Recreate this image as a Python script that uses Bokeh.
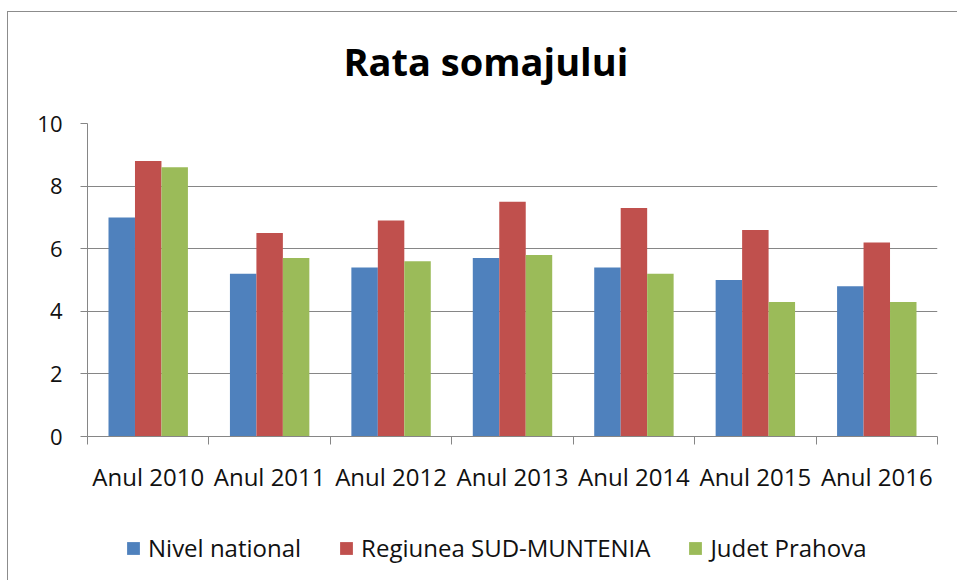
import numpy as np
from bokeh.plotting import figure
from bokeh.layouts import column
from bokeh.models import (FixedTicker, Legend, LegendItem, Range1d, Title)
from bokeh.embed import file_html
from bokeh.resources import INLINE

# ---- data ----
categories = ["Anul 2010", "Anul 2011", "Anul 2012", "Anul 2013",
              "Anul 2014", "Anul 2015", "Anul 2016"]
nivel_national = [7.0, 5.2, 5.4, 5.7, 5.4, 5.0, 4.8]
regiunea_sud_muntenia = [8.8, 6.5, 6.9, 7.5, 7.3, 6.6, 6.2]
judet_prahova = [8.6, 5.7, 5.6, 5.8, 5.2, 4.3, 4.3]
series_names = ["Nivel national", "Regiunea SUD-MUNTENIA", "Judet Prahova"]
y_ticks = [0, 2, 4, 6, 8, 10]
title_text = "Rata somajului"

colors = ["#4F81BD", "#C0504D", "#9BBB59"]
FONT = "Open Sans"
GRID = "#868686"

W, H1, H2 = 950, 490, 79
p = figure(width=W, height=H1, output_backend="svg", toolbar_location=None,
           x_range=Range1d(0, len(categories)), y_range=Range1d(0, 10),
           min_border_left=79, min_border_right=21,
           min_border_top=111, min_border_bottom=66,
           background_fill_color="white", border_fill_color="white")
p.outline_line_color = None

idx = np.arange(len(categories))
centers = idx + 0.5
bw = 0.218
series = [nivel_national, regiunea_sud_muntenia, judet_prahova]
for k, (vals, col) in enumerate(zip(series, colors)):
    p.vbar(x=centers + (k - 1) * bw, top=vals, width=bw, bottom=0,
           fill_color=col, line_color=None)

# title (spacer title sits between the main title and the plot frame)
p.title.text = title_text
p.title.align = "left"
p.title.offset = 256
p.title.text_font = FONT
p.title.text_font_style = "bold"
p.title.text_font_size = "38px"
p.title.text_color = "#000000"
p.add_layout(Title(text=" ", text_font_size="1px", standoff=29), "above")

# axes
xa = p.xaxis[0]
xa.ticker = FixedTicker(ticks=list(centers), minor_ticks=list(range(len(categories) + 1)))
xa.major_label_overrides = {float(c): lab for c, lab in zip(centers, categories)}
xa.major_tick_out = 0
xa.major_tick_in = 0
xa.minor_tick_out = 8
xa.minor_tick_in = 0
xa.minor_tick_line_color = GRID
xa.axis_line_color = GRID
xa.major_label_text_font = FONT
xa.major_label_text_font_size = "24px"
xa.major_label_text_color = "#111111"
xa.major_label_standoff = 15

ya = p.yaxis[0]
ya.ticker = FixedTicker(ticks=y_ticks)
ya.major_tick_out = 7
ya.major_tick_in = 0
ya.minor_tick_out = 0
ya.minor_tick_in = 0
ya.major_tick_line_color = GRID
ya.axis_line_color = GRID
ya.major_label_text_font = FONT
ya.major_label_text_font_size = "22px"
ya.major_label_text_color = "#111111"
ya.major_label_standoff = 18

p.xgrid.visible = False
p.ygrid.ticker = FixedTicker(ticks=y_ticks)
p.ygrid.grid_line_color = GRID
p.ygrid.grid_line_width = 1

# legend strip below the chart (its frame is aligned with the chart's frame)
p2 = figure(width=W, height=H2, output_backend="svg", toolbar_location=None,
            x_range=Range1d(0, 1), y_range=Range1d(0, 1),
            x_axis_type=None, y_axis_type=None, min_border=0,
            background_fill_color="white", border_fill_color="white")
p2.outline_line_color = None
# legend swatches only: one off-range bar per series so the swatch gets its colour
legend_renderers = [p2.vbar(x=[-10.0], top=[0.0], width=0.1, fill_color=col, line_color=None)
                    for col in colors]
legend = Legend(items=[LegendItem(label=n, renderers=[r]) for n, r in zip(series_names, legend_renderers)],
                location=(38, 17), orientation="horizontal",
                glyph_width=16, glyph_height=16, label_standoff=7, spacing=37,
                padding=0, margin=0, border_line_color=None, background_fill_alpha=0,
                label_text_font=FONT, label_text_font_size="24px", label_text_color="#111111")
p2.add_layout(legend, "center")

layout = column(p, p2, spacing=0,
                styles={"margin-left": "8px", "margin-top": "12px",
                        "box-shadow": "-1px -1px 0px 0px #8c8c8c"})

open("out.html", "w").write(file_html(layout, INLINE))
